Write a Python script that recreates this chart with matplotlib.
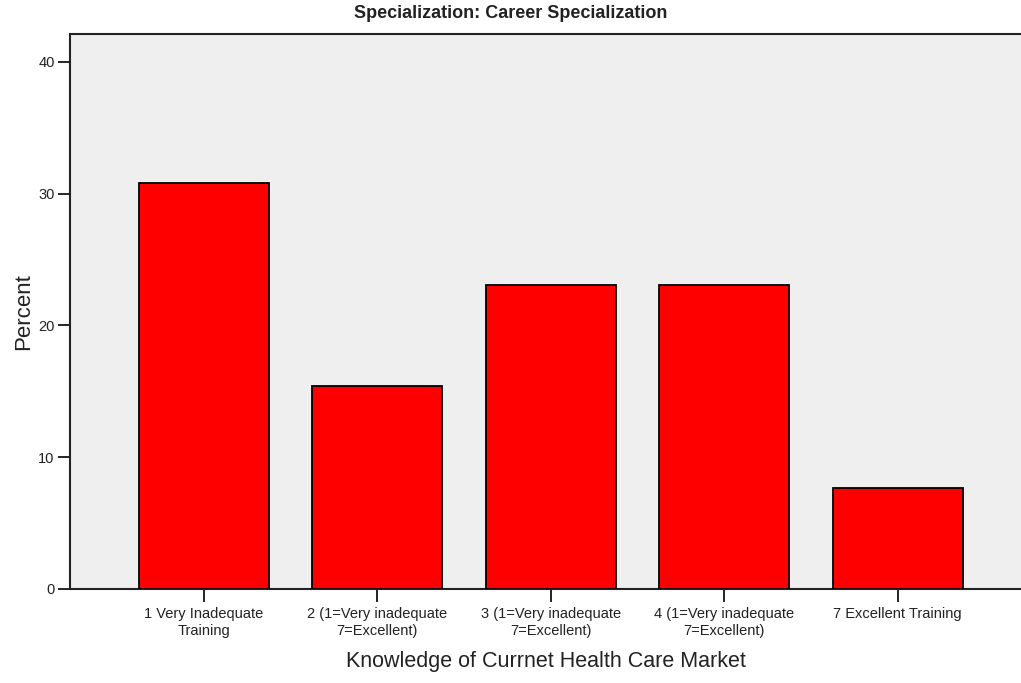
import matplotlib
matplotlib.use("Agg")
import matplotlib.pyplot as plt

categories = ["1 Very Inadequate\nTraining",
              "2 (1=Very inadequate\n7=Excellent)",
              "3 (1=Very inadequate\n7=Excellent)",
              "4 (1=Very inadequate\n7=Excellent)",
              "7 Excellent Training"]
percent = [30.77, 15.38, 23.08, 23.08, 7.69]
yticks = [0, 10, 20, 30, 40]

plt.rcParams['font.family'] = ['Liberation Sans', 'DejaVu Sans']

fig = plt.figure(figsize=(10.21, 6.83), dpi=100)
ax = fig.add_axes([70/1021, 1-589/683, (1021-70)/1021, (589-34)/683])
ax.set_facecolor('#efefef')
x = list(range(len(categories)))
ax.bar(x, percent, width=0.75, color='#ff0000', edgecolor='black', linewidth=1.3, zorder=3)
ax.set_xlim(-0.77, 4.71)
ax.set_ylim(0, 42.1)
ax.set_yticks(yticks)
ax.set_yticklabels([str(t) for t in yticks], fontsize=10.5, color='#222222')
ax.set_xticks(x)
ax.set_xticklabels(categories, fontsize=10.5, color='#222222', linespacing=1.3)
ax.tick_params(axis='x', length=9, width=1.2, pad=4)
ax.tick_params(axis='y', length=9, width=1.2, pad=2)
for s in ['left', 'bottom', 'top']:
    ax.spines[s].set_linewidth(1.5)
    ax.spines[s].set_color('#222222')
ax.spines['right'].set_visible(False)
ax.set_xlabel("Knowledge of Currnet Health Care Market", fontsize=15.5, labelpad=9, color='#222222')
ax.set_ylabel("Percent", fontsize=16, labelpad=3, color='#222222')
fig.text(0.5, 1-14/683, "Specialization: Career Specialization", ha='center', va='center',
         fontsize=13, fontweight='bold', color='#222222')
fig.savefig("out.png", dpi=100)
